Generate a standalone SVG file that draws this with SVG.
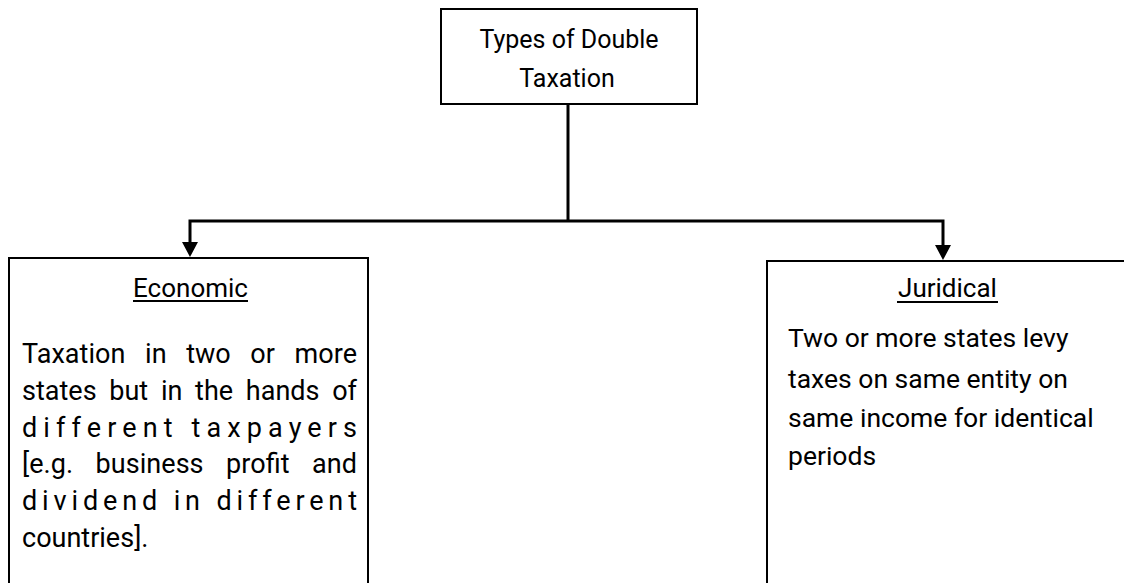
<svg xmlns="http://www.w3.org/2000/svg" width="1124" height="583" viewBox="0 0 1124 583">
  <style>
    .box { fill: #ffffff; stroke: #000000; stroke-width: 2; }
    .wire { fill: none; stroke: #000000; stroke-width: 3; }
    .head { fill: #000000; }
    .txt { font-family: Roboto, "Liberation Sans", sans-serif; fill: #000000; }
    .title { font-size: 25px; text-anchor: middle; }
    .label { font-size: 26px; text-anchor: middle; }
    .body { font-size: 27px; }
    .side { font-size: 26.5px; }
    .rule { stroke: #000000; stroke-width: 2; }
  </style>
  <rect width="1124" height="583" fill="#ffffff"/>

  <!-- tree connectors -->
  <g id="connectors">
    <line class="wire" x1="568" y1="104" x2="568" y2="221"/>
    <polyline class="wire" points="190,243 190,221 943,221 943,245"/>
    <path class="head" d="M182 242 L198 242 L190 257 Z"/>
    <path class="head" d="M935 245 L951 245 L943 260 Z"/>
  </g>

  <!-- root node -->
  <g id="root">
    <rect class="box" x="441" y="9" width="256" height="95"/>
    <text class="txt title" x="569" y="48">Types of Double</text>
    <text class="txt title" x="567" y="87">Taxation</text>
  </g>

  <!-- economic double taxation (box runs past the lower edge) -->
  <g id="economic">
    <path class="box" d="M9 600 L9 258 L368 258 L368 600"/>
    <text class="txt label" x="190.5" y="297">Economic</text>
    <line class="rule" x1="133" y1="301" x2="248" y2="301"/>
    <text class="txt body" x="22" y="363" word-spacing="12.8" textLength="335" lengthAdjust="spacing">Taxation in two or more</text>
    <text class="txt body" x="22" y="400" word-spacing="6" textLength="335" lengthAdjust="spacing">states but in the hands of</text>
    <text class="txt body" x="22" y="437" textLength="335" lengthAdjust="spacing">different taxpayers</text>
    <text class="txt body" x="22" y="473" word-spacing="15.8" textLength="335" lengthAdjust="spacing">[e.g. business profit and</text>
    <text class="txt body" x="22" y="510" textLength="335" lengthAdjust="spacing">dividend in different</text>
    <text class="txt body" x="22" y="547">countries].</text>
  </g>

  <!-- juridical double taxation (box runs past the right and lower edges) -->
  <g id="juridical">
    <rect class="box" x="767" y="261" width="400" height="400"/>
    <text class="txt label" x="947.5" y="297">Juridical</text>
    <line class="rule" x1="897" y1="302" x2="998" y2="302"/>
    <text class="txt side" x="788" y="347">Two or more states levy</text>
    <text class="txt side" x="788" y="388">taxes on same entity on</text>
    <text class="txt side" x="788" y="427">same income for identical</text>
    <text class="txt side" x="788" y="465">periods</text>
  </g>
</svg>
